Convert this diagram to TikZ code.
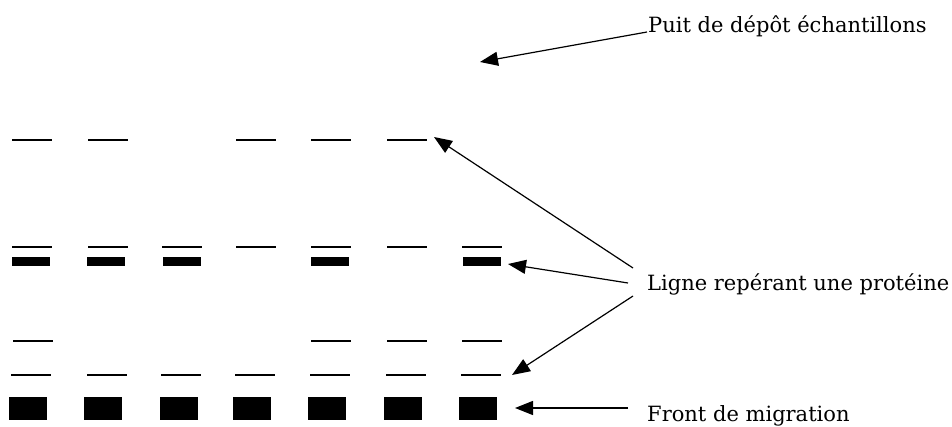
\documentclass[tikz,border=0pt]{standalone}
\usepackage{fontspec}
\setmainfont{DejaVu Serif}
\usetikzlibrary{arrows.meta}
\tikzset{
  thinband/.style={draw=none,fill=black,minimum width=40pt,minimum height=2.2pt,inner sep=0pt,outer sep=0pt},
  thickband/.style={draw=none,fill=black,minimum width=38pt,minimum height=9pt,inner sep=0pt,outer sep=0pt},
  front/.style={draw=none,fill=black,minimum width=38pt,minimum height=23pt,inner sep=0pt,outer sep=0pt},
  lbl/.style={font=\fontsize{21}{25}\selectfont,inner sep=0pt,anchor=base west},
  pointer/.style={line width=1.2pt,-{Triangle[length=18pt,width=14pt]}}
}
\begin{document}
\begin{tikzpicture}[x=1pt,y=-1pt]
\useasboundingbox (0,0) rectangle (952,426);
% row 1 (y=140): lanes 1,2,4,5,6
\foreach \c/\n in {32/1,108/2,256/4,331/5,407/6}
  \node[thinband] (ra\n) at (\c,140) {};
% row 2 (y=247): all lanes
\foreach \c/\n in {32/1,108/2,182/3,256/4,331/5,407/6,482/7}
  \node[thinband] (rb\n) at (\c,247) {};
% row 3 thick (y=261.5): lanes 1,2,3,5,7
\foreach \c/\n in {31/1,106/2,181.5/3,330/5,481.5/7}
  \node[thickband] (rc\n) at (\c,261.5) {};
% row 4 (y=341): lanes 1,5,6,7
\foreach \c/\n in {33/1,331/5,407/6,482/7}
  \node[thinband] (rd\n) at (\c,341) {};
% row 5 (y=375): all lanes
\foreach \c/\n in {31/1,107/2,181/3,255/4,330/5,406/6,481/7}
  \node[thinband] (re\n) at (\c,375) {};
% migration front squares
\foreach \c/\n in {27.5/1,103/2,178.5/3,251.5/4,326.5/5,403/6,478/7}
  \node[front] (rf\n) at (\c,408.5) {};

% labels
\node[lbl] (puit) at (648,32) {Puit de dépôt échantillons};
\node[lbl] (ligne) at (647,290) {Ligne repérant une protéine};
\node[lbl] (frontlbl) at (647,421) {Front de migration};

% arrow ends
\coordinate (tpuit) at (480,62);
\coordinate (spuit) at (647,32);
\coordinate (t1) at (434,137);
\coordinate (s1) at (633,268);
\coordinate (t2) at (508,264);
\coordinate (s2) at (628,283);
\coordinate (t3) at (512,375);
\coordinate (s3) at (633,296);
\coordinate (t4) at (515,408);
\coordinate (s4) at (628,408);

\draw[pointer] (spuit) -- (tpuit);
\draw[pointer] (s1) -- (t1);
\draw[pointer] (s2) -- (t2);
\draw[pointer] (s3) -- (t3);
\draw[pointer] (s4) -- (t4);
\end{tikzpicture}
\end{document}
